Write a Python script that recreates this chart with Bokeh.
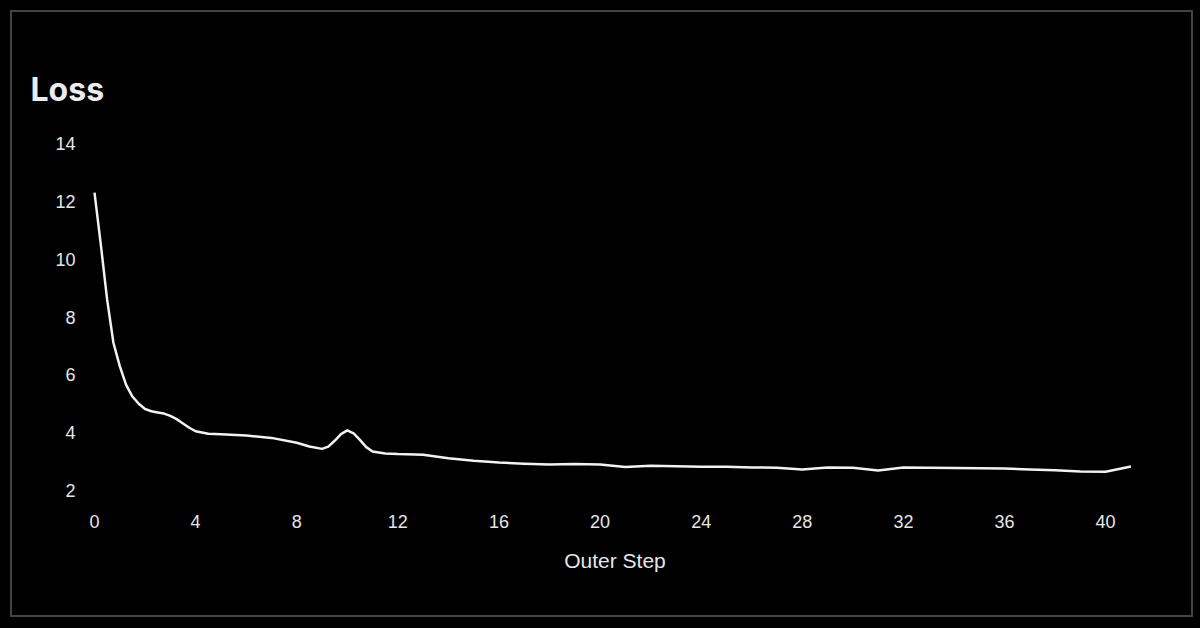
from bokeh.plotting import figure
from bokeh.models import Range1d, SingleIntervalTicker
from bokeh.embed import file_html
from bokeh.resources import INLINE

# Data
steps = [0, 0.25, 0.5, 0.75, 1, 1.25, 1.5, 1.75, 2, 2.25, 2.5, 2.75, 3, 3.25, 3.5, 3.75,
         4, 4.5, 5, 6, 7, 8, 8.5, 9, 9.25, 9.5, 9.75, 10, 10.25, 10.5, 10.75, 11, 11.5,
         12, 13, 14, 15, 16, 17, 18, 19, 20, 21, 22, 23, 24, 25, 26, 27,
         28, 29, 30, 31, 32, 33, 34, 35, 36, 37, 38, 39, 40, 41]
loss = [12.3, 10.5, 8.6, 7.1, 6.3, 5.65, 5.25, 5.0, 4.82, 4.74, 4.7, 4.66, 4.58, 4.47,
        4.32, 4.17, 4.05, 3.96, 3.95, 3.9, 3.82, 3.65, 3.52, 3.44, 3.52, 3.72, 3.95,
        4.08, 3.98, 3.75, 3.5, 3.35, 3.28, 3.26, 3.24, 3.12, 3.03, 2.97, 2.93,
        2.9, 2.92, 2.9, 2.81, 2.86, 2.84, 2.82, 2.82, 2.8, 2.79, 2.73, 2.8, 2.79, 2.69,
        2.8, 2.79, 2.78, 2.77, 2.76, 2.73, 2.7, 2.66, 2.65, 2.83]

title_text = "Loss"
x_label = "Outer Step"

W, H = 1194, 620

p = figure(width=W, height=H, output_backend="svg", toolbar_location=None,
           x_range=Range1d(-0.198, 41.38), y_range=Range1d(1.69, 14.31),
           min_border_left=89, min_border_right=54, min_border_top=134,
           min_border_bottom=121)

p.background_fill_color = "#000000"
p.border_fill_color = "#000000"
p.outline_line_color = None
p.grid.visible = False

p.line(steps, loss, line_color="#f2f2f2", line_width=2.5, line_join="round")

p.title.text = title_text
p.title.text_font = "Inter"
p.title.text_font_size = "32px"
p.title.text_font_style = "bold"
p.title.text_color = "#ececec"
p.title.align = "left"
p.title.offset = -59
p.title.standoff = 51

p.xaxis.ticker = SingleIntervalTicker(interval=4)
p.yaxis.ticker = SingleIntervalTicker(interval=2)
for ax in (p.xaxis, p.yaxis):
    ax.axis_line_color = None
    ax.major_tick_line_color = None
    ax.minor_tick_line_color = None
    ax.major_tick_out = 0
    ax.major_tick_in = 0
    ax.major_label_text_font = "Liberation Sans"
    ax.major_label_text_font_size = "18px"
    ax.major_label_text_color = "#e6e6e6"
p.yaxis.major_label_standoff = 10
p.xaxis.major_label_standoff = 11
p.xaxis.axis_label = x_label
p.xaxis.axis_label_text_font = "Liberation Sans"
p.xaxis.axis_label_text_font_size = "21px"
p.xaxis.axis_label_text_font_style = "normal"
p.xaxis.axis_label_text_color = "#e6e6e6"
p.xaxis.axis_label_standoff = 18

css = ("<style>html, body { background-color: #000000 !important; }"
       "body::after { content: ''; position: fixed; left: 10px; top: 10px;"
       " width: 1183px; height: 607px; box-sizing: border-box;"
       " border: 2px solid #444444; pointer-events: none; }</style>")

html = file_html(p, INLINE)
html = html.replace("</head>", css + "</head>", 1)
open("out.html", "w").write(html)
